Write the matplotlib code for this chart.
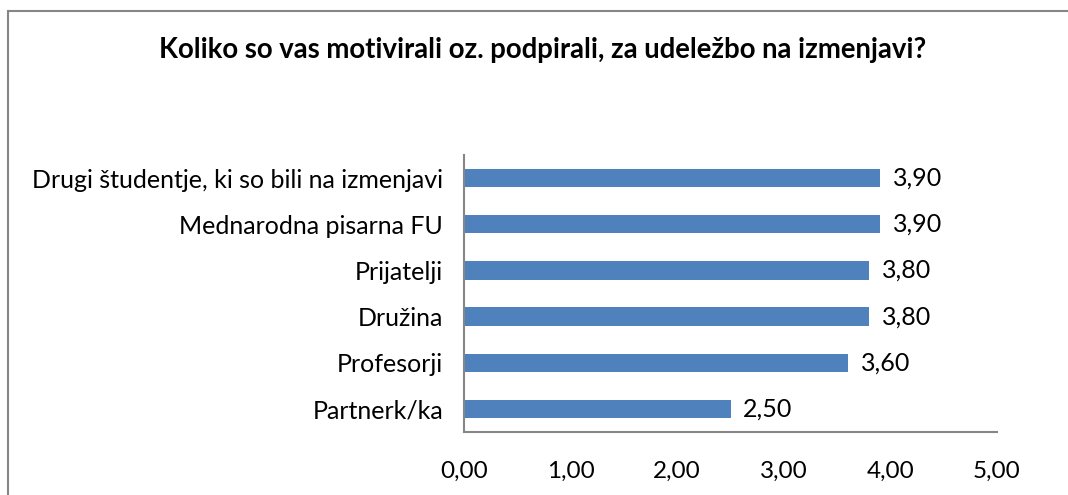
import matplotlib.pyplot as plt
from matplotlib.patches import Rectangle

plt.rcParams['font.family'] = ['Lato', 'DejaVu Sans']

categories = ['Partnerk/ka', 'Profesorji', 'Družina', 'Prijatelji',
              'Mednarodna pisarna FU', 'Drugi študentje, ki so bili na izmenjavi']
values = [2.50, 3.60, 3.80, 3.80, 3.90, 3.90]
xticks = [0, 1, 2, 3, 4, 5]

fig = plt.figure(figsize=(10.68, 4.95), dpi=100)
ax = fig.add_axes([464/1068, 1 - 432/495, (997-464)/1068, (432-155)/495])

# outer chart frame (right and bottom edges fall outside the image)
fig.patches.append(Rectangle((8/1068, -0.05), 1.05, 1 - 11/495 + 0.05,
                             transform=fig.transFigure, fill=False,
                             edgecolor='#868686', linewidth=1.5))

bars = ax.barh(range(len(categories)), values, height=0.4, color='#4F81BD')
for i, v in enumerate(values):
    ax.text(v + 0.12, i, f'{v:.2f}'.replace('.', ','), va='center', ha='left', fontsize=18)

ax.set_xlim(0, 5)
ax.set_ylim(-0.5, len(categories) - 0.5)
ax.set_xticks(xticks)
ax.set_xticklabels([f'{t:.2f}'.replace('.', ',') for t in xticks], fontsize=17.5)
ax.set_yticks(range(len(categories)))
ax.set_yticklabels(categories, fontsize=18)
ax.tick_params(length=0)
ax.tick_params(axis='y', pad=15)
ax.tick_params(axis='x', pad=21)

for s in ['top', 'right']:
    ax.spines[s].set_visible(False)
for s in ['left', 'bottom']:
    ax.spines[s].set_color('#868686')
    ax.spines[s].set_linewidth(1.5)

fig.text(543/1068, 1 - 50/495, 'Koliko so vas motivirali oz. podpirali, za udeležbo na izmenjavi?',
         ha='center', va='center', fontsize=19.8, fontweight='bold')

plt.savefig('out.png', dpi=100)
